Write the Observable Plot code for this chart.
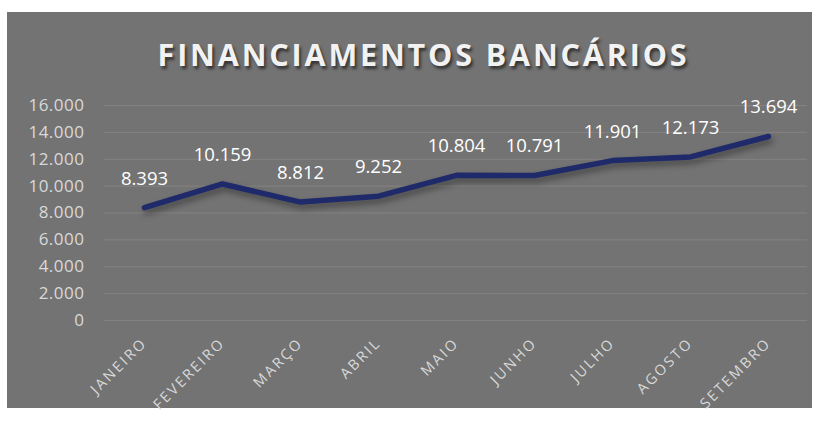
<!DOCTYPE html>
<html>
<head>
<meta charset="utf-8">
<script src="https://cdn.jsdelivr.net/npm/d3@7"></script>
<script src="https://cdn.jsdelivr.net/npm/@observablehq/plot@0.6"></script>
<style>
  html, body { margin: 0; padding: 0; background: #ffffff; }
  #wrap { position: relative; width: 819px; height: 428px; overflow: hidden; }
  #box { position: absolute; left: 7px; top: 12px; width: 805px; height: 396px; background: #737373; }
  #title { position: absolute; left: 14px; width: 819px; top: 32.5px; text-align: center; line-height: normal;
           font-family: "Open Sans", sans-serif; font-weight: 700; font-size: 30.5px; letter-spacing: 2.85px;
           color: #f2f2f2; text-shadow: 2px 3px 3px rgba(0,0,0,0.55); white-space: nowrap; }
  #chart { position: absolute; left: 0; top: 0; }
  #chart g[aria-label="line"] { filter: drop-shadow(2px 4px 3px rgba(0,0,0,0.4)); }
  #chart g[aria-label="y-axis tick label"] text { letter-spacing: 0.5px; }
  #chart g[aria-label="x-axis tick label"] text { letter-spacing: 2.3px; }
</style>
</head>
<body>
<div id="wrap">
  <div id="box"></div>
  <div id="title">FINANCIAMENTOS BANCÁRIOS</div>
  <div id="chart"></div>
</div>
<script>
const months = ["JANEIRO", "FEVEREIRO", "MARÇO", "ABRIL", "MAIO", "JUNHO", "JULHO", "AGOSTO", "SETEMBRO"];
const values = [8393, 10159, 8812, 9252, 10804, 10791, 11901, 12173, 13694];
const yTicks = [0, 2000, 4000, 6000, 8000, 10000, 12000, 14000, 16000];

const data = months.map((m, i) => ({month: m, value: values[i]}));
const fmt = d => d.toLocaleString("pt-BR");

const plot = Plot.plot({
  width: 819,
  height: 428,
  marginTop: 105,
  marginBottom: 108,
  marginLeft: 104,
  marginRight: 12,
  style: { background: "transparent", fontFamily: "Open Sans, sans-serif", fontSize: "15px" },
  x: { type: "point", domain: months, padding: 0.5 },
  y: { domain: [0, 16000] },
  marks: [
    Plot.gridY(yTicks, { stroke: "#878282", strokeOpacity: 1, strokeWidth: 1 }),
    Plot.axisY(yTicks, { tickSize: 0, tickPadding: 20, tickFormat: fmt, fill: "#d9d9d9", fontSize: 17, label: null }),
    Plot.axisX({ tickSize: 0, tickRotate: -45, tickPadding: 20, fill: "#d9d9d9", fontSize: 14.5, label: null }),
    Plot.line(data, { x: "month", y: "value", stroke: "#1f2a6b", strokeWidth: 5.5, strokeLinecap: "round", strokeLinejoin: "round" }),
    Plot.text(data, { x: "month", y: "value", text: d => fmt(d.value), dy: -29, fill: "#ffffff", fontSize: 18.5 })
  ]
});
document.getElementById("chart").appendChild(plot);
</script>
</body>
</html>
